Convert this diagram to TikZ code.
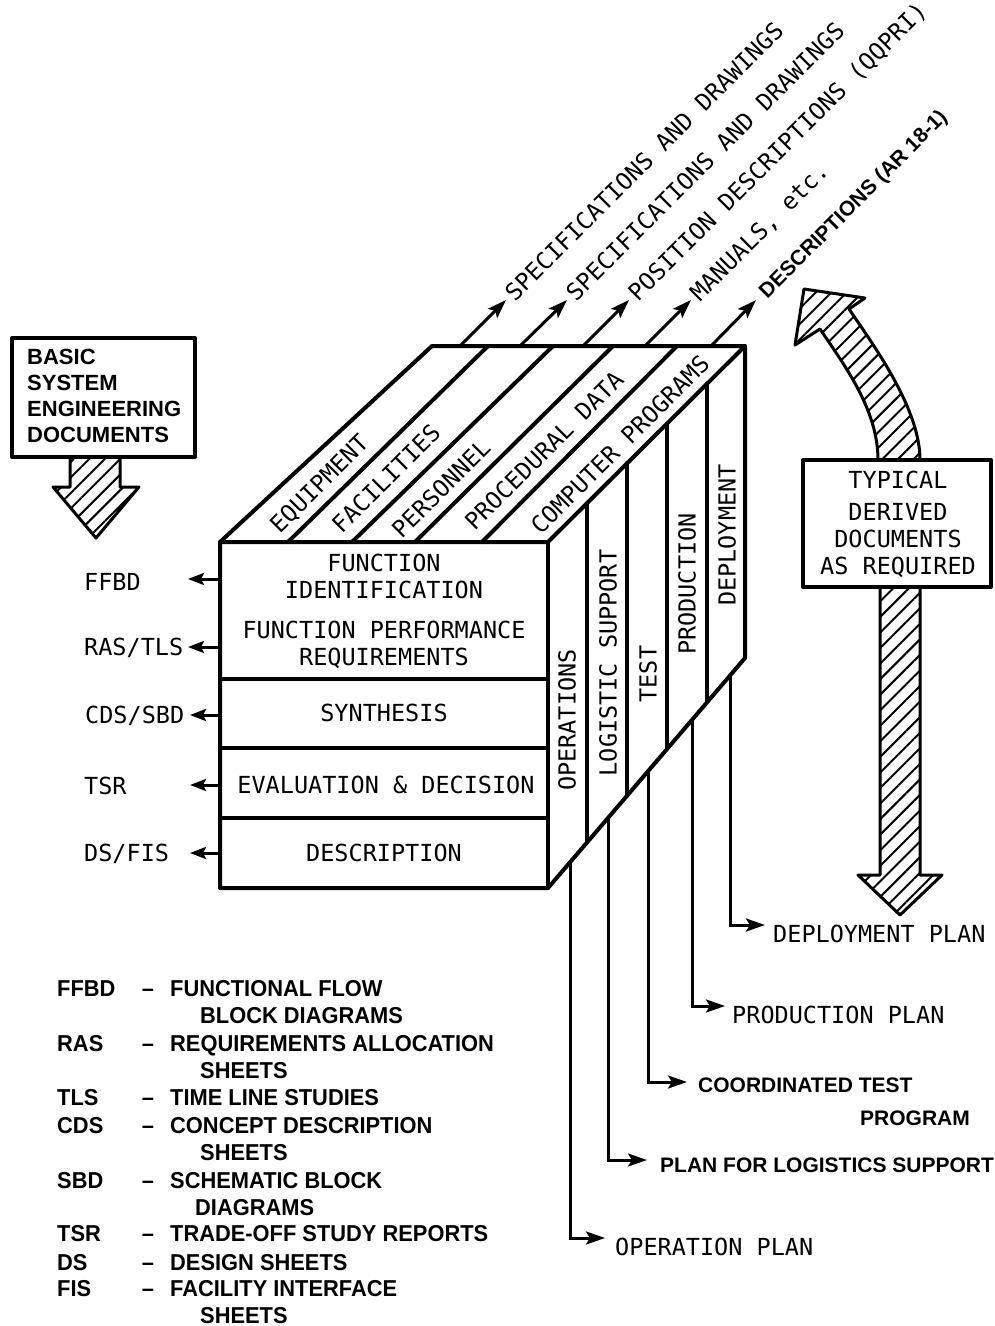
\documentclass[tikz,border=0pt]{standalone}
\usepackage{fontspec}
\newfontfamily\monof{DejaVu Sans Mono}
\newfontfamily\boldf{Liberation Sans Bold}
\newfontfamily\legf{Liberation Sans Bold}[FakeStretch=0.95]
\usetikzlibrary{arrows.meta,patterns.meta,calc}
\begin{document}
\begin{tikzpicture}[x=1pt,y=-1pt,
  cubeline/.style={line width=4pt, line join=round, line cap=round},
  arr/.style={line width=3pt, -{Stealth[length=19pt,width=13pt,inset=4pt]}},
  sarr/.style={line width=3pt, -{Stealth[length=16pt,width=12pt,inset=3pt]}},
  mono/.style={font=\monof\fontsize{23.5}{27}\selectfont, inner sep=0pt, text height=17pt, text depth=0pt},
  bld/.style={font=\boldf\fontsize{21}{25}\selectfont, inner sep=0pt, text height=15pt, text depth=0pt},
  bbox/.style={font=\boldf\fontsize{22}{26}\selectfont, inner sep=0pt, text height=16pt, text depth=0pt, anchor=west},
  leg/.style={font=\legf\fontsize{23}{27}\selectfont, inner sep=0pt, text height=16.5pt, text depth=0pt, anchor=west},
  hatch/.style={pattern={Lines[angle=45,distance=11pt,line width=2pt]}},
  bigarrow/.style={line width=3pt, line join=round, hatch},
]
\fill[white] (0,0) rectangle (994,1326);
\useasboundingbox (0,0) rectangle (994,1326);

% ---------- cube ----------
\coordinate (FL) at (220,542);
\coordinate (FR) at (548,542);
\coordinate (BL) at (432,346);
\coordinate (BR) at (745,346);
\coordinate (FLb) at (220,888);
\coordinate (FRb) at (548,888);
\coordinate (BRb) at (745,658);
\draw[cubeline] (FLb) -- (FL) -- (BL) -- (BR) -- (BRb) -- (FRb) -- cycle;
\draw[cubeline] (FL) -- (FR) -- (BR);
\draw[cubeline] (FR) -- (FRb);
% front dividers
\draw[cubeline] (220,679) -- (548,679);
\draw[cubeline] (220,748) -- (548,748);
\draw[cubeline] (220,818) -- (548,818);
% top dividers
\draw[cubeline] (288,542) -- (488,346);
\draw[cubeline] (352,542) -- (553,346);
\draw[cubeline] (415,542) -- (613,346);
\draw[cubeline] (482,542) -- (677,346);
% right dividers
\draw[cubeline] (587,503) -- (587,842);
\draw[cubeline] (627,463) -- (627,796);
\draw[cubeline] (667,424) -- (667,749);
\draw[cubeline] (707,384) -- (707,702);

% top face labels
\node[mono, rotate=45] (teq) at (319,483) {EQUIPMENT};
\node[mono, rotate=45] (tfa) at (386,478) {FACILITIES};
\node[mono, rotate=45] (tpe) at (441,488) {PERSONNEL};
\node[mono, rotate=45] (tpr) at (544,450) {PROCEDURAL DATA};
\node[mono, rotate=45] (tco) at (620,444) {COMPUTER PROGRAMS};

% front face labels
\node[mono] (ff1) at (384,563) {FUNCTION};
\node[mono] (ff2) at (384,590) {IDENTIFICATION};
\node[mono] (ff3) at (384,630) {FUNCTION PERFORMANCE};
\node[mono] (ff4) at (384,657) {REQUIREMENTS};
\node[mono] (fsy) at (384,713) {SYNTHESIS};
\node[mono] (fev) at (386,785) {EVALUATION \& DECISION};
\node[mono] (fde) at (384,853) {DESCRIPTION};

% right face labels
\node[mono, rotate=90] (rop) at (567,720) {OPERATIONS};
\node[mono, rotate=90] (rlo) at (608,663) {LOGISTIC SUPPORT};
\node[mono, rotate=90] (rte) at (648,674) {TEST};
\node[mono, rotate=90] (rpr) at (687,584) {PRODUCTION};
\node[mono, rotate=90] (rde) at (727,535) {DEPLOYMENT};

% ---------- top arrows ----------
\coordinate (a1s) at (460,346); \coordinate (a1e) at (506,300);
\coordinate (a2s) at (520,346); \coordinate (a2e) at (567,300);
\coordinate (a3s) at (583,346); \coordinate (a3e) at (629,300);
\coordinate (a4s) at (645,346); \coordinate (a4e) at (691,300);
\coordinate (a5s) at (711,346); \coordinate (a5e) at (756,300);
\draw[arr] (a1s) -- (a1e);
\draw[arr] (a2s) -- (a2e);
\draw[arr] (a3s) -- (a3e);
\draw[arr] (a4s) -- (a4e);
\draw[arr] (a5s) -- (a5e);
\node[mono, rotate=45, anchor=west] (o1) at ($(a1e)+(3,-3)$) {SPECIFICATIONS AND DRAWINGS};
\node[mono, rotate=45, anchor=west] (o2) at ($(a2e)+(3,-3)$) {SPECIFICATIONS AND DRAWINGS};
\node[mono, rotate=45, anchor=west] (o3) at ($(a3e)+(3,-3)$) {POSITION DESCRIPTIONS (QQPRI)};
\node[mono, rotate=45, anchor=west] (o4) at ($(a4e)+(3,-3)$) {MANUALS, etc.};
\node[bld, rotate=45, anchor=west] (o5) at ($(a5e)+(6,-6)$) {DESCRIPTIONS (AR 18-1)};

% ---------- left arrows and labels ----------
\draw[sarr] (220,579) -- (188,579);
\draw[sarr] (220,647) -- (188,647);
\draw[sarr] (220,715) -- (190,715);
\draw[sarr] (220,785) -- (190,785);
\draw[sarr] (220,853) -- (190,853);
\node[mono, anchor=west] (lffbd) at (84,582) {FFBD};
\node[mono, anchor=west] (lras) at (84,647) {RAS/TLS};
\node[mono, anchor=west] (lcds) at (85,715) {CDS/SBD};
\node[mono, anchor=west] (ltsr) at (84,786) {TSR};
\node[mono, anchor=west] (lds) at (84,853) {DS/FIS};

% ---------- basic box with hatched arrow ----------
\draw[bigarrow] (70,457) -- (70,487) -- (53,487) -- (96,538) -- (139,487) -- (120,487) -- (120,457);
\draw[cubeline, fill=white] (12,338) rectangle (195,457);
\node[bbox] (b1) at (27,356) {BASIC};
\node[bbox] (b2) at (27,382) {SYSTEM};
\node[bbox] (b3) at (27,408) {ENGINEERING};
\node[bbox] (b4) at (27,434) {DOCUMENTS};

% ---------- typical derived documents ----------
\draw[bigarrow] (880,587) -- (880,875) -- (858,875) -- (900,915) -- (942,875) -- (920,875) -- (920,587);
\draw[bigarrow] (878,460) .. controls (878,410) and (845,366) .. (820,329)
  -- (795,345) -- (804,289) -- (865,298) -- (849,309)
  .. controls (877,350) and (920,410) .. (920,460);
\draw[cubeline, fill=white] (803,460) rectangle (991,587);
\node[mono] (t1) at (898,480) {TYPICAL};
\node[mono] (t2) at (898,512) {DERIVED};
\node[mono] (t3) at (898,539) {DOCUMENTS};
\node[mono] (t4) at (898,566) {AS REQUIRED};

% ---------- plan outputs ----------
\draw[arr] (570,862) |- (605,1238);
\draw[arr] (608,818) |- (647,1160);
\draw[arr] (648,771) |- (687,1082);
\draw[arr] (692,720) |- (725,1006);
\draw[arr] (730,676) |- (765,925);
\node[mono, anchor=west] (p1) at (615,1247) {OPERATION PLAN};
\node[bld, anchor=west] (p2) at (660,1165) {PLAN FOR LOGISTICS SUPPORT};
\node[bld, anchor=west] (p3) at (698,1085) {COORDINATED TEST};
\node[bld, anchor=west] (p3b) at (860,1118) {PROGRAM};
\node[mono, anchor=west] (p4) at (732,1015) {PRODUCTION PLAN};
\node[mono, anchor=west] (p5) at (773,934) {DEPLOYMENT PLAN};

% ---------- legend ----------
\foreach \ab/\yy in {FFBD/988, RAS/1043, TLS/1097, CDS/1125, SBD/1180, TSR/1233, DS/1262, FIS/1288}{
  \node[leg] (g\ab) at (57,\yy) {\ab};
  \node[leg, anchor=center] (d\ab) at (148,\yy) {–};
}
\node[leg] (e1) at (170,988) {FUNCTIONAL FLOW};
\node[leg] (e1b) at (200,1015) {BLOCK DIAGRAMS};
\node[leg] (e2) at (170,1043) {REQUIREMENTS ALLOCATION};
\node[leg] (e2b) at (200,1070) {SHEETS};
\node[leg] (e3) at (170,1097) {TIME LINE STUDIES};
\node[leg] (e4) at (170,1125) {CONCEPT DESCRIPTION};
\node[leg] (e4b) at (200,1152) {SHEETS};
\node[leg] (e5) at (170,1180) {SCHEMATIC BLOCK};
\node[leg] (e5b) at (195,1207) {DIAGRAMS};
\node[leg] (e6) at (170,1233) {TRADE-OFF STUDY REPORTS};
\node[leg] (e7) at (170,1262) {DESIGN SHEETS};
\node[leg] (e8) at (170,1288) {FACILITY INTERFACE};
\node[leg] (e8b) at (200,1315) {SHEETS};
\end{tikzpicture}
\end{document}
